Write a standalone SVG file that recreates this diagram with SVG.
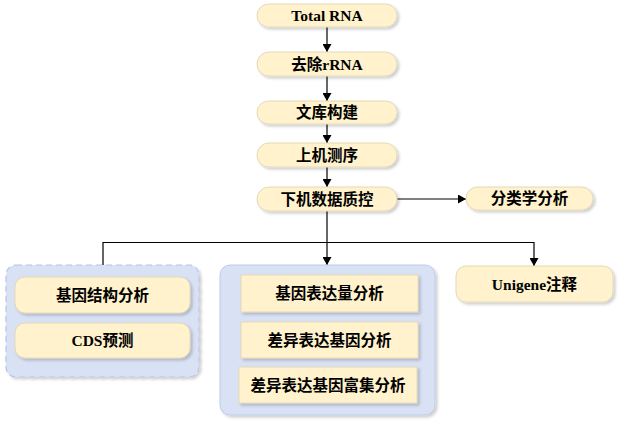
<svg xmlns="http://www.w3.org/2000/svg" width="620" height="424" viewBox="0 0 620 424">
<defs>
<filter id="sh" x="-10%" y="-20%" width="120%" height="150%">
<feGaussianBlur in="SourceAlpha" stdDeviation="1.5"/>
<feOffset dx="1.5" dy="2" result="b"/>
<feComponentTransfer><feFuncA type="linear" slope="0.2"/></feComponentTransfer>
<feMerge><feMergeNode/><feMergeNode in="SourceGraphic"/></feMerge>
</filter>
<marker id="ar" viewBox="0 0 8 9" refX="8" refY="4.5" markerWidth="8" markerHeight="9" orient="auto" markerUnits="userSpaceOnUse">
<path d="M0,0 L8,4.5 L0,9 z" fill="#000"/>
</marker>
</defs>
<style>
.n{fill:#fff2cc;stroke:#e3d9b8;stroke-width:1;filter:url(#sh)}
.g{fill:#d9e1f4;stroke:#bccbea;stroke-width:1;filter:url(#sh)}
.gd{fill:#d9e1f4;stroke:#b4c6e7;stroke-width:1.2;stroke-dasharray:6 4;filter:url(#sh)}
.t{font-family:"Liberation Serif","Noto Sans CJK SC",serif;font-weight:bold;font-size:15.5px;fill:#000;text-anchor:middle;dominant-baseline:central}
.c{fill:none;stroke:#000;stroke-width:1.2}
</style>
<rect x="0" y="0" width="620" height="424" fill="#fff"/>
<g id="connectors">
<line class="c" x1="327" y1="27" x2="327" y2="52" marker-end="url(#ar)"/>
<line class="c" x1="327" y1="76" x2="327" y2="101" marker-end="url(#ar)"/>
<line class="c" x1="327" y1="124" x2="327" y2="143" marker-end="url(#ar)"/>
<line class="c" x1="327" y1="167" x2="327" y2="187" marker-end="url(#ar)"/>
<line class="c" x1="397" y1="199" x2="466" y2="199" marker-end="url(#ar)"/>
<line class="c" x1="327" y1="211" x2="327" y2="265" marker-end="url(#ar)"/>
<polyline class="c" points="103,265 103,242.5 534,242.5 534,266" marker-end="url(#ar)"/>
</g>
<g id="n-total"><rect class="n" x="257" y="4" width="140" height="23" rx="11.5"/><text class="t" x="327" y="15.5">Total RNA</text></g>
<g id="n-rrna"><rect class="n" x="257" y="52" width="140" height="24" rx="12"/><text class="t" x="327" y="64">去除rRNA</text></g>
<g id="n-lib"><rect class="n" x="257" y="101" width="140" height="23" rx="11.5"/><text class="t" x="327" y="112.5">文库构建</text></g>
<g id="n-seq"><rect class="n" x="257" y="143" width="140" height="24" rx="12"/><text class="t" x="327" y="155">上机测序</text></g>
<g id="n-qc"><rect class="n" x="257" y="187" width="140" height="24" rx="12"/><text class="t" x="327" y="199">下机数据质控</text></g>
<g id="n-tax"><rect class="n" x="466" y="187" width="127" height="23" rx="11.5"/><text class="t" x="529.5" y="198.5">分类学分析</text></g>
<g id="g-left">
<rect class="gd" x="6" y="265" width="193" height="112" rx="10"/>
<g id="n-struct"><rect class="n" x="15" y="277" width="175" height="36" rx="10"/><text class="t" x="102.5" y="295">基因结构分析</text></g>
<g id="n-cds"><rect class="n" x="15" y="323" width="175" height="35" rx="10"/><text class="t" x="102.5" y="340.5">CDS预测</text></g>
</g>
<g id="g-mid">
<rect class="g" x="220" y="265" width="215" height="150" rx="10"/>
<g id="n-expr"><rect class="n" x="241" y="275" width="177" height="37"/><text class="t" x="329.5" y="293.5">基因表达量分析</text></g>
<g id="n-deg"><rect class="n" x="241" y="322" width="177" height="36"/><text class="t" x="329.5" y="340">差异表达基因分析</text></g>
<g id="n-enr"><rect class="n" x="239" y="367" width="178" height="36"/><text class="t" x="328" y="385">差异表达基因富集分析</text></g>
</g>
<g id="n-uni"><rect class="n" x="456" y="266" width="157" height="36" rx="10"/><text class="t" x="534.5" y="284">Unigene注释</text></g>
</svg>
